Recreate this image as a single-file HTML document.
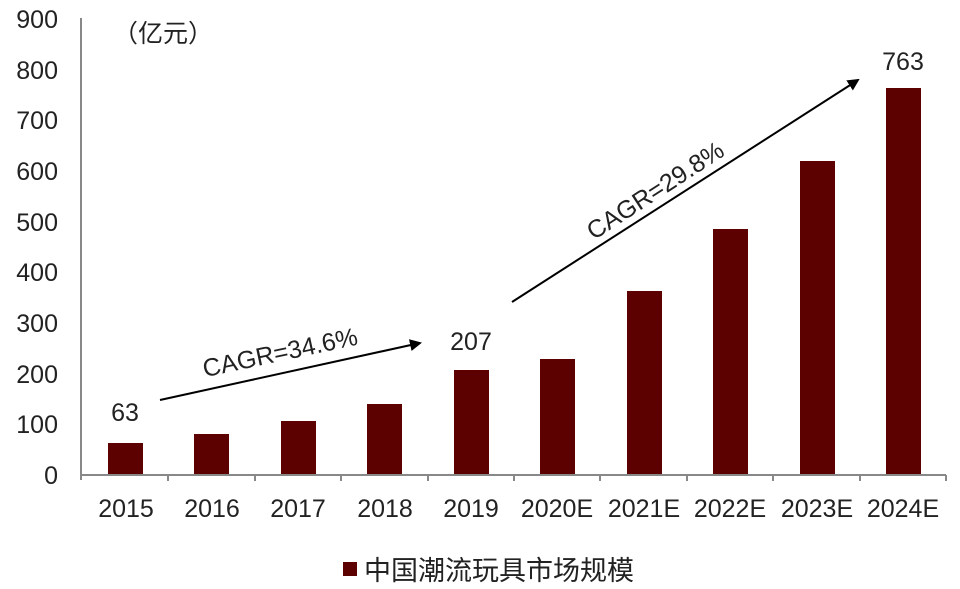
<!DOCTYPE html>
<html><head><style>body{margin:0;background:#fff}svg{display:block}text{font-family:"Liberation Sans","Noto Sans CJK SC",sans-serif;fill:#222}</style></head><body>
<svg width="960" height="589" viewBox="0 0 960 589">
<defs><marker id="a" markerWidth="12" markerHeight="12" refX="10" refY="6" orient="auto" markerUnits="userSpaceOnUse"><path d="M0,0 L12,6 L0,12 z" fill="#000"/></marker></defs>
<g font-size="25" text-anchor="end">
<text x="58" y="484">0</text><text x="58" y="433">100</text><text x="58" y="383">200</text><text x="58" y="332">300</text><text x="58" y="281">400</text><text x="58" y="231">500</text><text x="58" y="180">600</text><text x="58" y="129">700</text><text x="58" y="79">800</text><text x="58" y="28">900</text>
</g>
<text x="113" y="42" font-size="25">（亿元）</text>
<g fill="#5c0000">
<rect x="108" y="443" width="35" height="32"/>
<rect x="194" y="434" width="35" height="41"/>
<rect x="281" y="421" width="35" height="54"/>
<rect x="367" y="404" width="35" height="71"/>
<rect x="454" y="370" width="35" height="105"/>
<rect x="540" y="359" width="35" height="116"/>
<rect x="627" y="291" width="35" height="184"/>
<rect x="713" y="229" width="35" height="246"/>
<rect x="800" y="161" width="35" height="314"/>
<rect x="886" y="88" width="35" height="387"/>
</g>
<g stroke="#888" stroke-width="2">
<line x1="81" y1="18" x2="81" y2="480"/><line x1="81" y1="475" x2="946" y2="475"/>
<line x1="168" y1="475" x2="168" y2="481"/><line x1="255" y1="475" x2="255" y2="481"/><line x1="341" y1="475" x2="341" y2="481"/><line x1="428" y1="475" x2="428" y2="481"/><line x1="514" y1="475" x2="514" y2="481"/><line x1="600" y1="475" x2="600" y2="481"/><line x1="687" y1="475" x2="687" y2="481"/><line x1="773" y1="475" x2="773" y2="481"/><line x1="860" y1="475" x2="860" y2="481"/><line x1="946" y1="475" x2="946" y2="481"/>
</g>
<g font-size="25" text-anchor="middle">
<text x="126" y="517">2015</text><text x="212" y="517">2016</text><text x="298" y="517">2017</text><text x="385" y="517">2018</text><text x="471" y="517">2019</text><text x="557" y="517">2020E</text><text x="644" y="517">2021E</text><text x="730" y="517">2022E</text><text x="817" y="517">2023E</text><text x="903" y="517">2024E</text>
<text x="125" y="421">63</text><text x="471" y="350">207</text><text x="903" y="70">763</text>
</g>
<line x1="160" y1="400" x2="420" y2="343" stroke="#000" stroke-width="2" marker-end="url(#a)"/>
<line x1="512" y1="302" x2="858" y2="80" stroke="#000" stroke-width="2" marker-end="url(#a)"/>
<text x="280" y="361" font-size="25" text-anchor="middle" transform="rotate(-12 280 352)">CAGR=34.6%</text>
<text x="655" y="199" font-size="25" text-anchor="middle" transform="rotate(-33 655 190)">CAGR=29.8%</text>
<rect x="343" y="562" width="14" height="14" fill="#5c0000"/>
<text x="364" y="580" font-size="27">中国潮流玩具市场规模</text>
</svg>
</body></html>
